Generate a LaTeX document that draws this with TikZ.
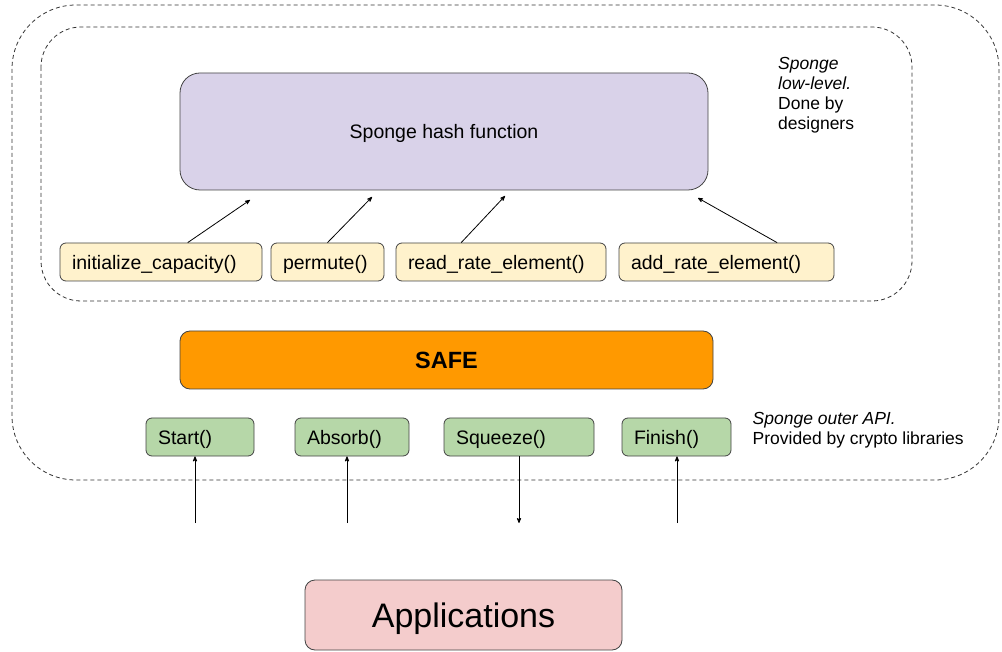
\documentclass[tikz,border=0pt]{standalone}
\usepackage{fontspec}
\setmainfont{Liberation Sans}
\usetikzlibrary{arrows,positioning}

\definecolor{hashlilac}{HTML}{D9D2E9}
\definecolor{primyellow}{HTML}{FFF2CC}
\definecolor{safeorange}{HTML}{FF9900}
\definecolor{apigreen}{HTML}{B6D7A8}
\definecolor{apppink}{HTML}{F4CCCC}
\definecolor{edgegray}{HTML}{434343}

\tikzset{
	box/.style={draw=edgegray,line width=0.8pt,inner sep=0pt,text depth=0pt},
	prim/.style={box,fill=primyellow,rounded corners=6pt,minimum height=38pt,inner xsep=12pt,
		text width=#1,align=left,font=\fontsize{19.5}{23}\selectfont},
	api/.style={box,fill=apigreen,rounded corners=6pt,minimum height=38pt,inner xsep=12pt,
		text width=#1,align=left,font=\fontsize{19.5}{23}\selectfont},
	frame/.style={draw=black!80,dashed,dash pattern=on 4pt off 3pt,line width=0.8pt},
	note/.style={inner sep=0pt,align=left,font=\fontsize{17.5}{20}\selectfont}
}

\begin{document}
\begin{tikzpicture}[x=1pt,y=-1pt,>=stealth']
	\useasboundingbox (0,0) rectangle (1002,652);

	% dashed groups
	\draw[frame,rounded corners=64pt] (12,5) rectangle (999,480);
	\draw[frame,rounded corners=40pt] (41,27) rectangle (912,301);

	% low-level part
	\node[box,fill=hashlilac,rounded corners=20pt,minimum width=528pt,minimum height=117pt,
		font=\fontsize{19.5}{23}\selectfont] (hash) at (444,131.5) {Sponge hash function};

	\node[prim=178pt] (ic) at (161,262) {initialize\_capacity()};
	\node[prim=89pt]  (pm) at (327.5,262) {permute()};
	\node[prim=186pt] (rr) at (501,262) {read\_rate\_element()};
	\node[prim=191pt] (ar) at (726.5,262) {add\_rate\_element()};

	\coordinate (h1) at (250,200);
	\coordinate (h2) at (372,197);
	\coordinate (h3) at (505,196);
	\coordinate (h4) at (698,198);

	\path [->,line width=0.8pt]
		(ic.36)  edge (h1)
		(pm.90)  edge (h2)
		(rr.154) edge (h3)
		(ar.21)  edge (h4);

	\node[note,anchor=north west] (lownote) at (778,57.5)
		{\textit{Sponge}\\\textit{low-level.}\\Done by\\designers};

	% SAFE
	\node[box,fill=safeorange,rounded corners=10pt,minimum width=533pt,minimum height=58pt,
		font=\fontsize{23.5}{28}\selectfont\bfseries] (safe) at (446.5,360) {SAFE};

	% outer API
	\node[api=84pt]  (st) at (200,437) {Start()};
	\node[api=90pt]  (ab) at (352,437) {Absorb()};
	\node[api=126pt] (sq) at (519,437) {Squeeze()};
	\node[api=85pt]  (fi) at (676.5,437) {Finish()};

	\node[note,anchor=north west] (apinote) at (752.5,412.5)
		{\textit{Sponge outer API.}\\Provided by crypto libraries};

	\coordinate (b1) at (195,523);
	\coordinate (b2) at (347,523);
	\coordinate (b3) at (519,523);
	\coordinate (b4) at (677,523);

	\path [->,line width=0.8pt]
		(b1) edge (b1 |- st.south)
		(b2) edge (b2 |- ab.south)
		(b3 |- sq.south) edge (b3)
		(b4) edge (b4 |- fi.south);

	% applications
	\node[box,fill=apppink,rounded corners=10pt,minimum width=317pt,minimum height=70pt,
		font=\fontsize{34}{40}\selectfont] (apps) at (463.5,615) {Applications};
\end{tikzpicture}
\end{document}
